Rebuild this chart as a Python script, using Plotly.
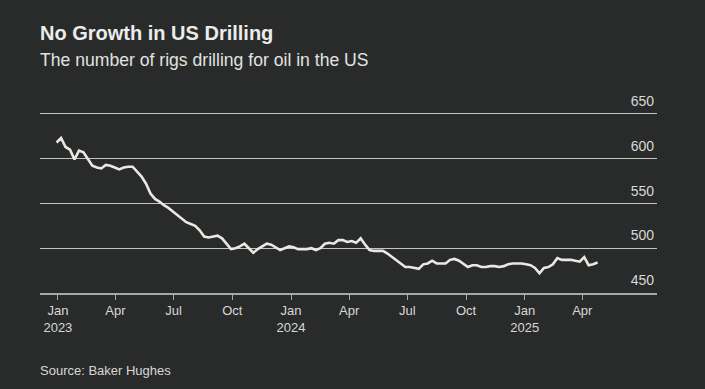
import pandas as pd
import plotly.graph_objects as go

# Weekly US oil rig count (Baker Hughes)
first_week = "2022-12-30"
rig_counts = [
    618, 623, 613, 610, 599, 609, 607, 600, 592, 590,
    589, 593, 592, 590, 588, 590, 591, 591, 586, 580,
    572, 561, 555, 552, 548, 545, 541, 537, 532, 529,
    527, 525, 520, 513, 512, 513, 514, 511, 505, 499,
    500, 502, 505, 500, 495, 499, 502, 505, 504, 501,
    498, 500, 502, 501, 499, 499, 499, 500, 498, 500,
    505, 506, 505, 509, 509, 507, 508, 506, 511, 504,
    498, 497, 497, 497, 494, 490, 486, 482, 479, 479,
    478, 477, 482, 483, 486, 483, 483, 483, 487, 488,
    486, 482, 479, 481, 481, 479, 479, 480, 480, 479,
    480, 482, 483, 483, 483, 482, 481, 478, 472, 478,
    479, 482, 489, 487, 487, 487, 486, 485, 490, 481,
    482, 484,
]
week_dates = pd.date_range(first_week, periods=len(rig_counts), freq="7D")

x_tick_dates = ["2023-01-01", "2023-04-01", "2023-07-01", "2023-10-01",
                "2024-01-01", "2024-04-01", "2024-07-01", "2024-10-01",
                "2025-01-01", "2025-04-01"]
x_tick_labels = ["Jan<br>2023", "Apr", "Jul", "Oct",
                 "Jan<br>2024", "Apr", "Jul", "Oct",
                 "Jan<br>2025", "Apr"]
y_tick_values = [450, 500, 550, 600, 650]
y_tick_labels = ["450", "500", "550", "600", "650"]

title_text = "No Growth in US Drilling"
subtitle_text = "The number of rigs drilling for oil in the US"
source_text = "Source: Baker Hughes"

BG = "#292b2a"
FONT = "Liberation Sans, Arial, Helvetica, sans-serif"

fig = go.Figure()
fig.add_trace(go.Scatter(
    x=week_dates, y=rig_counts, mode="lines",
    line=dict(color="#e9e9e2", width=2.6),
    hoverinfo="skip", showlegend=False,
))

T, B, L, R = 78, 96, 40, 48
PH = 389 - T - B  # plot height in px
PW = 705 - L - R
AXIS_Y = 389 - B  # pixel row of the bottom axis


def paper_y(px):
    return (AXIS_Y - px) / PH


fig.update_layout(
    width=705, height=389,
    paper_bgcolor=BG, plot_bgcolor=BG,
    margin=dict(l=L, r=R, t=T, b=B),
    font=dict(family=FONT, color="#d8d8d8", size=13),
    showlegend=False,
)

fig.update_xaxes(
    type="date",
    range=["2022-12-04", "2025-07-27"],
    tickvals=x_tick_dates, ticktext=x_tick_labels,
    showgrid=False, zeroline=False,
    showline=True, linecolor="#a8a8a8", linewidth=1.5,
    ticks="outside", ticklen=5, tickwidth=1.3, tickcolor="#a8a8a8",
    tickfont=dict(size=13, color="#d8d8d8"),
)

fig.update_yaxes(
    range=[450, 690],
    side="right",
    tickvals=y_tick_values, ticktext=y_tick_labels,
    ticklabelposition="inside top",
    ticklabelshift=-3,
    showgrid=True, gridcolor="#c4c4c4", gridwidth=1.3,
    zeroline=False, showline=False, ticks="",
    tickfont=dict(size=14, color="#d8d8d8"),
)

fig.add_annotation(
    text=f"<b>{title_text}</b>", xref="paper", yref="paper",
    x=-2 / PW, y=paper_y(33), xanchor="left", yanchor="middle",
    showarrow=False, font=dict(size=20, color="#ececec", family=FONT),
)
fig.add_annotation(
    text=subtitle_text, xref="paper", yref="paper",
    x=-2 / PW, y=paper_y(60), xanchor="left", yanchor="middle",
    showarrow=False, font=dict(size=17.6, color="#e2e2e2", family=FONT),
)
fig.add_annotation(
    text=source_text, xref="paper", yref="paper",
    x=-2 / PW, y=paper_y(370), xanchor="left", yanchor="middle",
    showarrow=False, font=dict(size=13, color="#d8d8d8", family=FONT),
)

fig.write_html(
    "out.html",
    config={"displayModeBar": False},
    post_script="document.body.style.margin='0';",
)
